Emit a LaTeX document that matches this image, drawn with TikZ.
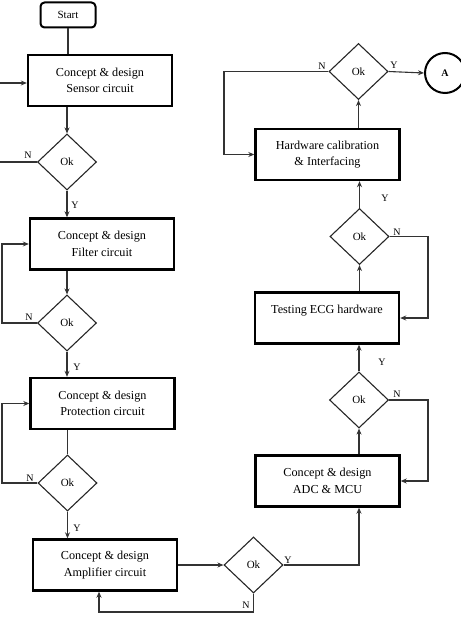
\documentclass[tikz,border=0pt]{standalone}
\usepackage{fontspec}
\setmainfont{Liberation Serif}
\usetikzlibrary{shapes.geometric,arrows.meta}
\begin{document}
\begin{tikzpicture}[x=1pt,y=-1pt,
  every node/.style={font=\fontsize{11}{16}\selectfont},
  procbox/.style={draw=black,line width=2.4pt,rectangle,minimum width=144pt,minimum height=51pt,align=center,inner sep=0pt,font=\fontsize{12.2}{16.5}\selectfont},
  startbox/.style={draw=black,line width=2pt,rounded corners=4pt,minimum width=55pt,minimum height=25pt,inner sep=0pt},
  decision/.style={draw=black!85,line width=1.1pt,diamond,minimum width=59pt,minimum height=56pt,inner sep=0pt},
  conn/.style={draw=black!80,line width=1.1pt},
  arr/.style={conn,-{Stealth[length=6pt,width=5pt]}},
  lbl/.style={font=\fontsize{10}{12}\selectfont,inner sep=0pt}
]
\useasboundingbox (0,0) rectangle (460,620);
% nodes
\node[startbox] (start) at (68,15) {Start};
\node[procbox] (sensor) at (100,80.5) {Concept \& design\\Sensor circuit};
\node[decision] (d1) at (67,162) {Ok};
\node[procbox] (filter) at (102,244) {Concept \& design\\Filter circuit};
\node[decision] (d2) at (67,323) {Ok};
\node[procbox] (protect) at (102.5,403.5) {Concept \& design\\Protection circuit};
\node[decision] (d3) at (67.5,483) {Ok};
\node[procbox] (amp) at (105,565) {Concept \& design\\Amplifier circuit};
\node[decision] (d4) at (253.5,565) {Ok};
\node[procbox] (adc) at (327.5,481) {Concept \& design\\ADC \& MCU};
\node[decision] (d5) at (359,400) {Ok};
\node[procbox] (test) at (327,318) {Testing ECG hardware\\~};
\node[decision] (d6) at (359.5,236.5) {Ok};
\node[procbox] (hw) at (327.5,154.5) {Hardware calibration\\\& Interfacing};
\node[decision] (d7) at (358.5,71.5) {Ok};
\node[draw=black,line width=2pt,circle,minimum size=40pt,inner sep=0pt,font=\fontsize{10}{12}\selectfont\bfseries] (A) at (445,73) {A};
% coordinates
\coordinate (s0) at (0,83);
\coordinate (n0) at (0,162);
\coordinate (l2) at (2,323);
\coordinate (l3) at (2,483);
\coordinate (nb) at (99,612);
\coordinate (r5) at (428,400);
\coordinate (r6) at (428,236.5);
\coordinate (r7) at (224,71.5);
% left column
\draw[conn] (start) -- (start |- sensor.north);
\draw[arr] (s0) -- (s0 -| sensor.west);
\draw[arr] (d1.north |- sensor.south) -- (d1.north);
\draw[conn] (d1.west) -- (n0);
\draw[arr] (d1.south) -- (d1.south |- filter.north);
\draw[arr] (d2.north |- filter.south) -- (d2.north);
\draw[arr] (d2.west) -- (l2) |- (filter.west);
\draw[arr] (d2.south) -- (d2.south |- protect.north);
\draw[conn] (d3.north |- protect.south) -- (d3.north);
\draw[arr] (d3.west) -- (l3) |- (protect.west);
\draw[arr] (d3.south) -- (d3.south |- amp.north);
% bottom
\draw[arr] (amp.east) -- (d4.west);
\draw[arr] (d4.east) -| (d5.south |- adc.south);
\draw[arr] (d4.south) |- (nb) -- (nb |- amp.south);
% right column
\draw[arr] (d5.south |- adc.north) -- (d5.south);
\draw[arr] (d5.east) -- (r5) |- (adc.east);
\draw[arr] (d5.north) -- (d5.north |- test.south);
\draw[arr] (d6.south |- test.north) -- (d6.south);
\draw[arr] (d6.east) -- (r6) |- (test.east);
\draw[arr] (d6.north) -- (d6.north |- hw.south);
\draw[arr] (d7.south |- hw.north) -- (d7.south);
\draw[arr] (d7.west) -- (r7) |- (hw.west);
\draw[arr] (d7.east) -- (A.west);
% labels
\node[lbl] (ln1) at (28,155) {N};
\node[lbl] (ly1) at (75,205) {Y};
\node[lbl] (ln2) at (29,317) {N};
\node[lbl] (ly2) at (77,367) {Y};
\node[lbl] (ln3) at (30,478) {N};
\node[lbl] (ly3) at (77,528) {Y};
\node[lbl] (ly4) at (288,560) {Y};
\node[lbl] (ln4) at (246,605) {N};
\node[lbl] (ln5) at (397,394) {N};
\node[lbl] (ly5) at (382,362) {Y};
\node[lbl] (ln6) at (397,232) {N};
\node[lbl] (ly6) at (385,198) {Y};
\node[lbl] (ln7) at (322,66) {N};
\node[lbl] (ly7) at (394,65) {Y};
\end{tikzpicture}
\end{document}
